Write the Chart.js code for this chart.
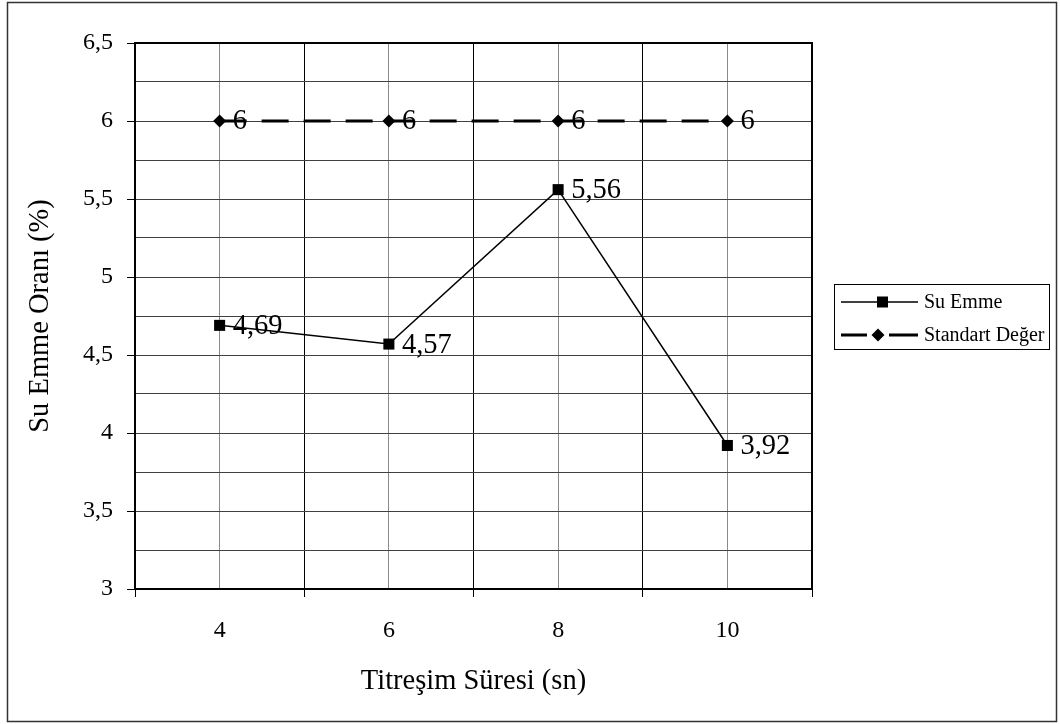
<!DOCTYPE html>
<html><head><meta charset="utf-8">
<script src="https://cdn.jsdelivr.net/npm/chart.js@4.4.1/dist/chart.umd.min.js"></script>
<style>html,body{margin:0;padding:0;background:#fff;}#wrap{position:relative;width:1060px;height:724px;}</style>
</head><body><div id="wrap"><canvas id="c" width="1060" height="724"></canvas></div>
<script>
const categories = [4, 6, 8, 10];
const suEmme = [4.69, 4.57, 5.56, 3.92];
const standartDeger = [6, 6, 6, 6];
const seriesNames = ['Su Emme', 'Standart Değer'];
const yTickValues = [3, 3.5, 4, 4.5, 5, 5.5, 6, 6.5];
const yTickLabels = ['3', '3,5', '4', '4,5', '5', '5,5', '6', '6,5'];
const xTitle = 'Titreşim Süresi (sn)';
const yTitle = 'Su Emme Oranı (%)';

const FONT = "'Liberation Serif', 'Times New Roman', serif";
const fmt = v => String(v).replace('.', ',');
const isMajorY = v => yTickValues.some(t => Math.abs(t - v) < 1e-9);
const isBoundaryX = v => Math.abs(v % 2) === 1;

const labelsPlugin = {
  id: 'valueLabels',
  afterDatasetsDraw(chart) {
    const ctx = chart.ctx;
    ctx.save();
    ctx.font = '28.5px ' + FONT;
    ctx.fillStyle = '#000';
    ctx.textAlign = 'left';
    ctx.textBaseline = 'middle';
    chart.data.datasets.forEach((ds, i) => {
      const meta = chart.getDatasetMeta(i);
      meta.data.forEach((el, j) => {
        ctx.fillText(fmt(ds.data[j].y), el.x + 13, el.y + 1);
      });
    });
    ctx.restore();
  }
};

const framePlugin = {
  id: 'frame',
  beforeDatasetsDraw(chart) {
    const {ctx, chartArea: a} = chart;
    ctx.save();
    ctx.strokeStyle = '#000';
    ctx.lineWidth = 2;
    ctx.strokeRect(a.left, a.top, a.right - a.left, a.bottom - a.top);
    ctx.restore();
  },
  afterDraw(chart) {
    const ctx = chart.ctx;
    ctx.save();
    ctx.strokeStyle = '#333';
    ctx.lineWidth = 1.5;
    ctx.strokeRect(7.5, 2.5, 1049, 719);
    ctx.strokeStyle = '#000';
    ctx.lineWidth = 1;
    ctx.strokeRect(834.5, 284.5, 215, 65);
    const rows = [302, 335];
    ctx.font = '20px ' + FONT;
    ctx.fillStyle = '#000';
    ctx.textBaseline = 'middle';
    ctx.textAlign = 'left';
    ctx.lineWidth = 1.5;
    ctx.beginPath(); ctx.moveTo(841, rows[0]); ctx.lineTo(918, rows[0]); ctx.stroke();
    ctx.fillRect(877, rows[0] - 5.5, 11, 11);
    ctx.fillText(chart.data.datasets[0].label, 924, rows[0] + 1);
    ctx.lineWidth = 3;
    ctx.beginPath(); ctx.moveTo(841, rows[1]); ctx.lineTo(867, rows[1]);
    ctx.moveTo(889, rows[1]); ctx.lineTo(918, rows[1]); ctx.stroke();
    ctx.beginPath();
    ctx.moveTo(878, rows[1] - 6.5); ctx.lineTo(884.5, rows[1]); ctx.lineTo(878, rows[1] + 6.5); ctx.lineTo(871.5, rows[1]); ctx.closePath();
    ctx.fill();
    ctx.fillText(chart.data.datasets[1].label, 924, rows[1] + 1);
    ctx.restore();
  }
};

new Chart(document.getElementById('c'), {
  type: 'line',
  data: {
    datasets: [
      {
        label: seriesNames[0],
        data: categories.map((c, i) => ({x: c, y: suEmme[i]})),
        borderColor: '#000', backgroundColor: '#000',
        borderWidth: 1.5,
        pointStyle: 'rect', pointRadius: 7.8,
        pointBorderWidth: 0,
        tension: 0, fill: false
      },
      {
        label: seriesNames[1],
        data: categories.map((c, i) => ({x: c, y: standartDeger[i]})),
        borderColor: '#000', backgroundColor: '#000',
        borderWidth: 3, borderDash: [27, 15],
        pointStyle: 'rectRot', pointRadius: 6.5,
        pointBorderWidth: 0,
        tension: 0, fill: false
      }
    ]
  },
  options: {
    responsive: false,
    animation: false,
    devicePixelRatio: 1,
    layout: {padding: {left: 0, right: 248, top: 43, bottom: 0}},
    plugins: {legend: {display: false}, tooltip: {enabled: false}},
    scales: {
      x: {
        type: 'linear', min: 3, max: 11,
        afterFit: s => { s.height = 135; },
        ticks: {
          stepSize: 1, autoSkip: false, maxRotation: 0,
          callback: v => categories.includes(v) ? String(v) : '',
          font: {family: FONT, size: 24}, color: '#000', padding: 19
        },
        grid: {
          color: c => (c.tick && isBoundaryX(c.tick.value)) ? '#000' : '#8a8a8a',
          lineWidth: 1, tickLength: 8,
          tickColor: c => (c.tick && isBoundaryX(c.tick.value)) ? '#000' : 'rgba(0,0,0,0)'
        },
        border: {display: true, color: '#000', width: 2},
        title: {display: true, text: xTitle, color: '#000', font: {family: FONT, size: 28.5}, padding: {top: 0, bottom: 25}}
      },
      y: {
        min: 3, max: 6.5,
        afterFit: s => { s.width = 135; },
        ticks: {
          stepSize: 0.25, autoSkip: false,
          callback: v => { const k = yTickValues.findIndex(t => Math.abs(t - v) < 1e-9); return k >= 0 ? yTickLabels[k] : ''; },
          font: {family: FONT, size: 24}, color: '#000', padding: 14
        },
        grid: {
          color: '#404040', lineWidth: 1, tickLength: 8,
          tickColor: c => (c.tick && isMajorY(c.tick.value)) ? '#000' : 'rgba(0,0,0,0)'
        },
        border: {display: true, color: '#000', width: 2},
        title: {display: true, text: yTitle, color: '#000', font: {family: FONT, size: 28.5}, padding: {top: 23, bottom: 0}}
      }
    }
  },
  plugins: [framePlugin, labelsPlugin]
});
</script></body></html>
